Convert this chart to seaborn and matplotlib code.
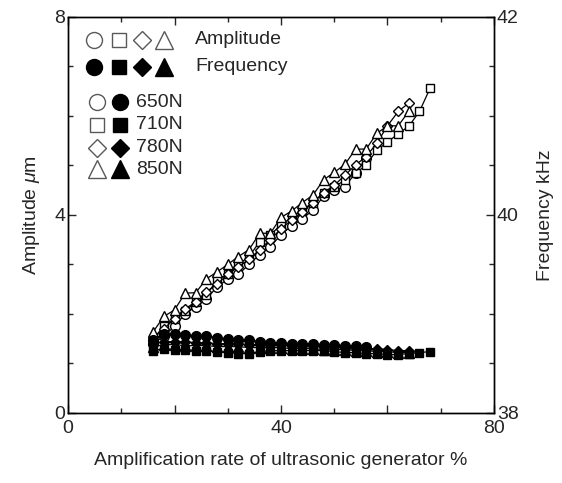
import numpy as np
import pandas as pd
import matplotlib
matplotlib.use("Agg")
import matplotlib.pyplot as plt
import seaborn as sns
from matplotlib.ticker import MultipleLocator, FixedLocator, FixedFormatter

# ---------------- data ----------------
rate_650 = [16, 18, 20, 22, 24, 26, 28, 30, 32, 34, 36, 38, 40, 42, 44, 46, 48, 50, 52, 54, 56]
amp_650 = [1.40, 1.55, 1.75, 2.00, 2.15, 2.30, 2.55, 2.70, 2.80, 3.00, 3.20, 3.36, 3.60, 3.78,
           3.92, 4.10, 4.38, 4.50, 4.57, 4.85, 5.15]
freq_650 = [38.74, 38.80, 38.80, 38.79, 38.78, 38.78, 38.76, 38.75, 38.74, 38.74, 38.72, 38.71,
            38.71, 38.70, 38.70, 38.70, 38.69, 38.69, 38.68, 38.68, 38.67]

rate_710 = [16, 18, 20, 22, 24, 26, 28, 30, 32, 34, 36, 38, 40, 42, 44, 46, 48, 50, 52, 54, 56,
            58, 60, 62, 64, 66, 68]
amp_710 = [1.50, 1.75, 1.90, 2.05, 2.25, 2.38, 2.69, 2.80, 3.00, 3.16, 3.46, 3.60, 3.80, 3.95,
           4.10, 4.25, 4.45, 4.57, 4.70, 4.84, 5.01, 5.31, 5.47, 5.64, 5.79, 6.09, 6.56]
freq_710 = [38.63, 38.65, 38.64, 38.64, 38.63, 38.63, 38.62, 38.61, 38.60, 38.60, 38.62, 38.63,
            38.63, 38.63, 38.63, 38.63, 38.63, 38.62, 38.61, 38.61, 38.60, 38.60, 38.59, 38.59,
            38.60, 38.61, 38.62]

rate_780 = [16, 18, 20, 22, 24, 26, 28, 30, 32, 34, 36, 38, 40, 42, 44, 46, 48, 50, 52, 54, 56,
            58, 60, 62, 64]
amp_780 = [1.50, 1.70, 1.90, 2.10, 2.25, 2.45, 2.60, 2.80, 2.95, 3.10, 3.30, 3.50, 3.72, 3.90,
           4.05, 4.25, 4.45, 4.60, 4.80, 5.01, 5.18, 5.45, 5.80, 6.09, 6.26]
freq_780 = [38.70, 38.72, 38.72, 38.72, 38.71, 38.71, 38.70, 38.70, 38.70, 38.69, 38.69, 38.69,
            38.69, 38.68, 38.68, 38.68, 38.67, 38.67, 38.66, 38.66, 38.65, 38.65, 38.64, 38.63,
            38.63]

rate_850 = [16, 18, 20, 22, 24, 26, 28, 30, 32, 34, 36, 38, 40, 42, 44, 46, 48, 50, 52, 54, 56,
            58, 60, 62, 64]
amp_850 = [1.64, 1.95, 2.08, 2.42, 2.43, 2.71, 2.85, 3.00, 3.16, 3.30, 3.63, 3.63, 3.95, 4.08,
           4.25, 4.40, 4.71, 4.86, 5.02, 5.33, 5.33, 5.65, 5.80, 5.80, 6.09]
freq_850 = [38.67, 38.69, 38.69, 38.68, 38.68, 38.68, 38.67, 38.67, 38.67, 38.66, 38.66, 38.66,
            38.66, 38.65, 38.65, 38.65, 38.64, 38.64, 38.64, 38.63, 38.63, 38.62, 38.62, 38.61,
            38.61]

loads = ["650N", "710N", "780N", "850N"]
markers = ["o", "s", "D", "^"]
msizes = [7, 5.5, 4.8, 7]

x_ticks = [0, 20, 40, 60, 80]
x_ticklabels = ["0", "", "40", "", "80"]
amp_ticks = [0, 4, 8]
freq_ticks = [38, 40, 42]

# ---------------- style ----------------
sns.set_style("ticks")
plt.rcParams["font.family"] = ["Liberation Sans", "DejaVu Sans"]
plt.rcParams["mathtext.fontset"] = "custom"
plt.rcParams["mathtext.it"] = "Liberation Sans:italic"
plt.rcParams["mathtext.rm"] = "Liberation Sans"

FS = 14

fig = plt.figure(figsize=(5.62, 4.83), dpi=100)
ax = fig.add_axes([0.121, 0.145, 0.758, 0.820])
ax2 = ax.twinx()

series = [
    (rate_650, amp_650, freq_650),
    (rate_710, amp_710, freq_710),
    (rate_780, amp_780, freq_780),
    (rate_850, amp_850, freq_850),
]

for (r, a, f), mk, ms in zip(series, markers, msizes):
    df = pd.DataFrame({"rate": r, "amp": a, "freq": f})
    sns.lineplot(data=df, x="rate", y="amp", ax=ax, color="black", linewidth=0.9,
                 marker=mk, markersize=ms, markerfacecolor="white",
                 markeredgecolor="black", markeredgewidth=1.0, sort=False)
    sns.lineplot(data=df, x="rate", y="freq", ax=ax2, color="black", linewidth=0.9,
                 marker=mk, markersize=ms, markerfacecolor="black",
                 markeredgecolor="black", markeredgewidth=1.0, sort=False)

ax.set_xlim(0, 80)
ax.set_ylim(0, 8)
ax2.set_ylim(38, 42)

for a_ in (ax, ax2):
    for sp in a_.spines.values():
        sp.set_visible(True)
        sp.set_linewidth(1.0)
        sp.set_color("black")

ax.xaxis.set_major_locator(FixedLocator(x_ticks))
ax.xaxis.set_major_formatter(FixedFormatter(x_ticklabels))
ax.xaxis.set_minor_locator(MultipleLocator(10))
ax.yaxis.set_major_locator(FixedLocator(amp_ticks))
ax.yaxis.set_minor_locator(MultipleLocator(1))
ax2.yaxis.set_major_locator(FixedLocator(freq_ticks))
ax2.yaxis.set_minor_locator(MultipleLocator(0.5))

ax.tick_params(axis="x", which="major", direction="in", length=6, width=1,
               labelsize=FS, top=True, pad=5)
ax.tick_params(axis="y", which="major", direction="in", length=6, width=1,
               labelsize=FS, pad=2)
ax.tick_params(axis="x", which="minor", direction="in", length=3.5, width=1, top=True)
ax.tick_params(axis="y", which="minor", direction="in", length=3.5, width=1)
ax2.tick_params(axis="y", which="major", direction="in", length=6, width=1, labelsize=FS, pad=2)
ax2.tick_params(axis="y", which="minor", direction="in", length=3.5, width=1)

ax.set_xlabel("Amplification rate of ultrasonic generator %", fontsize=FS, labelpad=11)
ax.set_ylabel("Amplitude $\\mu$m", fontsize=FS, labelpad=9)
ax2.set_ylabel("Frequency kHz", fontsize=FS, labelpad=13)

# ---------------- legend (custom) ----------------
tr = ax.transAxes
lk = dict(transform=tr, linestyle="none", color="black", markeredgewidth=1.0, clip_on=False)
lsz = [11.5, 10, 9, 12.5]
row1_x = [0.061, 0.120, 0.174, 0.225]
for xx, mk, s in zip(row1_x, markers, lsz):
    ax.plot([xx], [0.942], marker=mk, markersize=s,
            markerfacecolor="white", markeredgecolor="0.35", **lk)
    ax.plot([xx], [0.874], marker=mk, markersize=s,
            markerfacecolor="black", markeredgecolor="black", **lk)
ax.text(0.298, 0.942, "Amplitude", transform=tr, fontsize=FS, va="center", ha="left")
ax.text(0.298, 0.874, "Frequency", transform=tr, fontsize=FS, va="center", ha="left")

row_y = [0.785, 0.728, 0.670, 0.615]
for yy, mk, s, ld in zip(row_y, markers, lsz, loads):
    ax.plot([0.068], [yy], marker=mk, markersize=s,
            markerfacecolor="white", markeredgecolor="0.35", **lk)
    ax.plot([0.122], [yy], marker=mk, markersize=s,
            markerfacecolor="black", markeredgecolor="black", **lk)
    ax.text(0.160, yy, ld, transform=tr, fontsize=FS, va="center", ha="left")

fig.savefig("out.png", dpi=100)
